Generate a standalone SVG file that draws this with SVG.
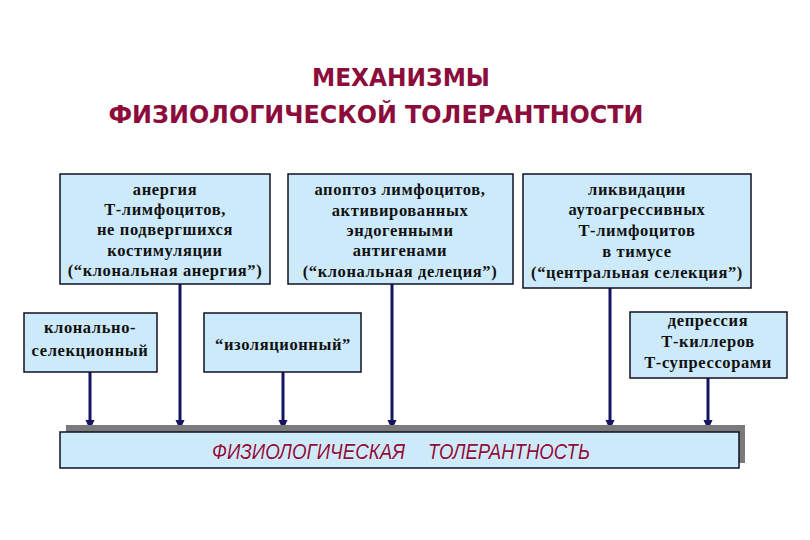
<svg xmlns="http://www.w3.org/2000/svg" width="810" height="540" viewBox="0 0 810 540">
<style>
.box{fill:#cdeafb;stroke:#111122;stroke-width:1.5}
.t{font-family:"Liberation Serif","Times New Roman",serif;font-weight:bold;font-size:16.5px;letter-spacing:0.6px;fill:#111;text-anchor:middle}
.title{font-family:"DejaVu Sans",Verdana,sans-serif;font-weight:bold;font-size:25px;fill:#8c0c3c;text-anchor:middle}
.ft{font-family:"Liberation Sans",Arial,sans-serif;font-style:italic;font-size:22px;fill:#8c0c3c;stroke:#ffffff;stroke-width:0.6;paint-order:stroke}
.c{stroke:#141460;stroke-width:3;fill:none;marker-end:url(#ah)}
</style>
<defs>
<marker id="ah" markerWidth="10" markerHeight="10" refX="10" refY="5" orient="auto" markerUnits="userSpaceOnUse" viewBox="0 0 10 10">
<path d="M0,0.5 L10,5 L0,9.5 z" fill="#141460"/>
</marker>
</defs>
<rect width="810" height="540" fill="#ffffff"/>
<g id="title">
<text class="title" x="401" y="86" textLength="178" lengthAdjust="spacingAndGlyphs">МЕХАНИЗМЫ</text>
<text class="title" x="376" y="123" textLength="535" lengthAdjust="spacingAndGlyphs">ФИЗИОЛОГИЧЕСКОЙ  ТОЛЕРАНТНОСТИ</text>
</g>
<g id="connectors">
<line class="c" x1="90" y1="372" x2="90" y2="430"/>
<line class="c" x1="180" y1="284" x2="180" y2="430"/>
<line class="c" x1="283" y1="372" x2="283" y2="430"/>
<line class="c" x1="392" y1="284" x2="392" y2="430"/>
<line class="c" x1="610" y1="288" x2="610" y2="430"/>
<line class="c" x1="708" y1="378" x2="708" y2="430"/>
</g>
<g id="n1">
<rect class="box" x="60" y="174" width="210" height="110"/>
<text class="t" x="165" y="195">анергия</text>
<text class="t" x="165" y="215">Т-лимфоцитов,</text>
<text class="t" x="165" y="235">не подвергшихся</text>
<text class="t" x="165" y="256">костимуляции</text>
<text class="t" x="165" y="276">(“клональная анергия”)</text>
</g>
<g id="n2">
<rect class="box" x="288" y="174" width="225" height="110"/>
<text class="t" x="400" y="195">апоптоз лимфоцитов,</text>
<text class="t" x="400" y="216">активированных</text>
<text class="t" x="400" y="236">эндогенными</text>
<text class="t" x="400" y="256">антигенами</text>
<text class="t" x="400" y="277">(“клональная делеция”)</text>
</g>
<g id="n3">
<rect class="box" x="523" y="174" width="228" height="114"/>
<text class="t" x="637" y="195">ликвидации</text>
<text class="t" x="637" y="215">аутоагрессивных</text>
<text class="t" x="637" y="236">Т-лимфоцитов</text>
<text class="t" x="637" y="257">в тимусе</text>
<text class="t" x="637" y="278">(“центральная селекция”)</text>
</g>
<g id="n4">
<rect class="box" x="24" y="313" width="133" height="59"/>
<text class="t" x="90" y="333">клонально-</text>
<text class="t" x="90" y="356">селекционный</text>
</g>
<g id="n5">
<rect class="box" x="204" y="313" width="157" height="59"/>
<text class="t" x="283" y="350">“изоляционный”</text>
</g>
<g id="n6">
<rect class="box" x="630" y="312" width="157" height="66"/>
<text class="t" x="708" y="326">депрессия</text>
<text class="t" x="708" y="347">Т-киллеров</text>
<text class="t" x="708" y="368">Т-супрессорами</text>
</g>
<g id="n7">
<rect x="66" y="425" width="679" height="38" fill="#7a7a7a"/>
<rect class="box" x="60" y="432" width="679" height="36"/>
<text class="ft" x="212" y="459" textLength="193" lengthAdjust="spacingAndGlyphs">ФИЗИОЛОГИЧЕСКАЯ</text>
<text class="ft" x="428" y="459" textLength="162" lengthAdjust="spacingAndGlyphs">ТОЛЕРАНТНОСТЬ</text>
</g>
</svg>
